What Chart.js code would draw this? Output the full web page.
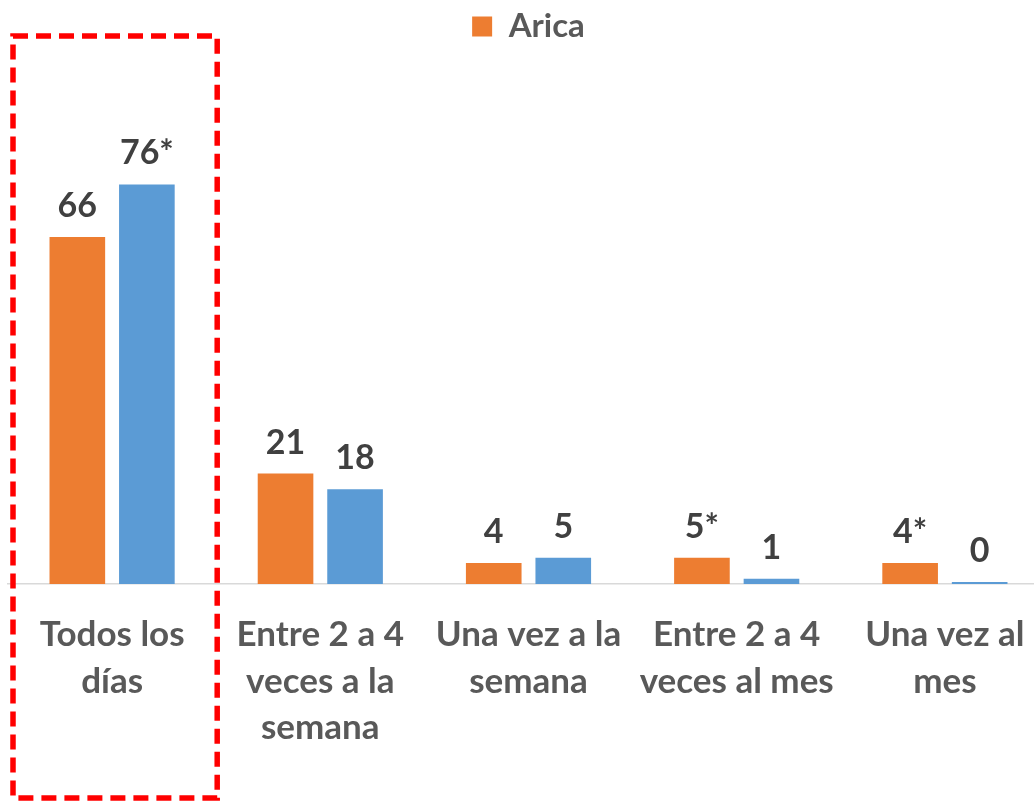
<!DOCTYPE html>
<html>
<head>
<meta charset="utf-8">
<script src="https://cdn.jsdelivr.net/npm/chart.js@4"></script>
<style>
  html, body { margin: 0; padding: 0; background: #fff; overflow: hidden; }
  #wrap { width: 1060px; height: 802px; }
</style>
</head>
<body>
<div id="wrap"><canvas id="chart"></canvas></div>
<script>
// Data
const categories = [
  ['Todos los', 'días'],
  ['Entre 2 a 4', 'veces a la', 'semana'],
  ['Una vez a la', 'semana'],
  ['Entre 2 a 4', 'veces al mes'],
  ['Una vez al', 'mes']
];
const aricaValues = [66, 21, 4, 5, 4];
const otherValues = [76, 18, 5, 1, 0.4];
const aricaLabels = ['66', '21', '4', '5*', '4*'];
const otherLabels = ['76*', '18', '5', '1', '0'];

const FONT = 'Lato, "DejaVu Sans", sans-serif';

// value labels above each bar
const valueLabels = {
  id: 'valueLabels',
  afterDatasetsDraw(chart){
    const ctx = chart.ctx;
    const texts = [aricaLabels, otherLabels];
    ctx.save();
    ctx.font = 'bold 34px ' + FONT;
    ctx.fillStyle = '#404040';
    ctx.textAlign = 'center';
    ctx.textBaseline = 'bottom';
    chart.data.datasets.forEach((ds, di) => {
      chart.getDatasetMeta(di).data.forEach((bar, i) => {
        ctx.fillText(texts[di][i], bar.x, bar.y - 14);
      });
    });
    ctx.restore();
  }
};

// red dashed highlight round the first category
const highlight = {
  id: 'highlight',
  afterDraw(chart){
    const x = chart.scales.x;
    const half = (x.getPixelForValue(1) - x.getPixelForValue(0)) / 2;
    const cx = x.getPixelForValue(0) + 3;
    const ctx = chart.ctx;
    ctx.save();
    ctx.strokeStyle = '#FF0000';
    ctx.lineWidth = 5.5;
    ctx.setLineDash([15, 8]);
    ctx.strokeRect(cx - half + 2, 36, half * 2 - 4, 762);
    ctx.restore();
  }
};

new Chart(document.getElementById('chart'), {
  type: 'bar',
  data: {
    labels: categories,
    datasets: [
      { label: 'Arica', data: aricaValues, backgroundColor: '#ED7D31' },
      { label: 'Otro', data: otherValues, backgroundColor: '#5B9BD5' }
    ]
  },
  options: {
    responsive: true,
    maintainAspectRatio: false,
    animation: false,
    layout: { padding: { left: 8, right: 11, top: 0, bottom: 0 } },
    datasets: { bar: { categoryPercentage: 0.668, barPercentage: 0.8 } },
    plugins: {
      tooltip: { enabled: false },
      legend: {
        position: 'top',
        labels: {
          filter: item => item.datasetIndex === 0,
          boxWidth: 20, boxHeight: 20,
          color: '#595959',
          font: { family: FONT, size: 33, weight: 'bold' },
          padding: 10
        }
      }
    },
    scales: {
      x: {
        grid: { display: false },
        border: { display: true, color: '#D9D9D9', width: 1.5 },
        ticks: {
          color: '#595959',
          padding: 20,
          maxRotation: 0,
          autoSkip: false,
          font: { family: FONT, size: 35, weight: 'bold', lineHeight: 1.32 }
        },
        afterFit(scale){ scale.height = 218; }
      },
      y: {
        display: false,
        min: 0,
        max: 101
      }
    }
  },
  plugins: [valueLabels, highlight]
});
</script>
</body>
</html>
